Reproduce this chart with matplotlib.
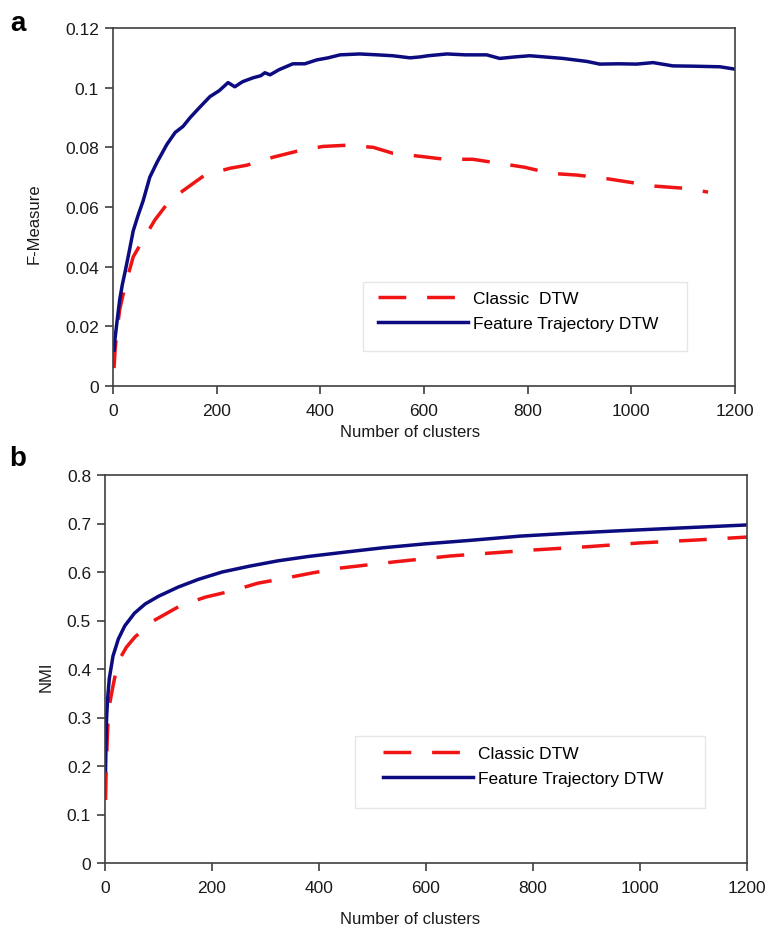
import matplotlib
matplotlib.use("Agg")
import matplotlib.pyplot as plt
from matplotlib.patches import Rectangle

plt.rcParams['font.family'] = ['Liberation Sans', 'DejaVu Sans']

# (a) F-measure vs number of clusters
fm_ft_x = [2, 4, 8, 13, 18, 23, 30, 39, 48, 58, 71, 85, 104, 120, 135, 149, 165, 187,
           205, 222, 235, 250, 270, 285, 293, 303, 320, 347, 370, 393, 415, 438, 476,
           510, 540, 573, 592, 608, 644, 680, 721, 746, 775, 804, 840, 868, 914, 939,
           975, 1010, 1042, 1080, 1120, 1171, 1200]
fm_ft_y = [0.012, 0.016, 0.022, 0.029, 0.034, 0.038, 0.044, 0.052, 0.057, 0.062, 0.070,
           0.075, 0.081, 0.085, 0.087, 0.090, 0.093, 0.097, 0.099, 0.1017, 0.1003, 0.102,
           0.1033, 0.104, 0.105, 0.1043, 0.106, 0.108, 0.108, 0.1093, 0.110, 0.111,
           0.1113, 0.111, 0.1107, 0.110, 0.1103, 0.1107, 0.1113, 0.111, 0.111, 0.1098,
           0.1103, 0.1107, 0.1102, 0.1098, 0.1088, 0.1079, 0.108, 0.1079, 0.1084,
           0.1073, 0.1072, 0.107, 0.1062]

fm_cl_x = [2, 4, 8, 13, 23, 39, 58, 81, 110, 145, 177, 226, 258, 309, 355, 405, 451,
           502, 540, 592, 640, 694, 743, 795, 843, 895, 945, 997, 1045, 1100, 1148]
fm_cl_y = [0.006, 0.012, 0.019, 0.0257, 0.0333, 0.0433, 0.049, 0.0557, 0.0623, 0.0667,
           0.0707, 0.073, 0.074, 0.0767, 0.0787, 0.0803, 0.0807, 0.080, 0.078, 0.077,
           0.076, 0.076, 0.0747, 0.0733, 0.0713, 0.0707, 0.0697, 0.0683, 0.067, 0.0663,
           0.065]

# (b) NMI vs number of clusters
nmi_ft_x = [1, 2, 3, 5, 8, 15, 25, 37, 55, 75, 100, 137, 175, 219, 270, 323, 380, 449,
            520, 598, 680, 776, 870, 962, 1080, 1200]
nmi_ft_y = [0.19, 0.25, 0.30, 0.34, 0.38, 0.427, 0.462, 0.489, 0.515, 0.534, 0.550,
            0.569, 0.585, 0.600, 0.612, 0.623, 0.632, 0.641, 0.650, 0.658, 0.665, 0.674,
            0.680, 0.685, 0.691, 0.697]

nmi_cl_x = [1, 2, 4, 6, 9, 15, 24, 40, 56, 90, 140, 187, 237, 286, 336, 387, 439, 486,
            542, 594, 645, 720, 794, 900, 1000, 1106, 1200]
nmi_cl_y = [0.13, 0.18, 0.25, 0.30, 0.33, 0.365, 0.414, 0.445, 0.466, 0.499, 0.53,
            0.548, 0.561, 0.577, 0.587, 0.598, 0.608, 0.614, 0.621, 0.627, 0.633, 0.639,
            0.645, 0.652, 0.660, 0.666, 0.672]

x_ticks = [0, 200, 400, 600, 800, 1000, 1200]
fm_ticks = [0, 0.02, 0.04, 0.06, 0.08, 0.1, 0.12]
fm_tick_labels = ['0', '0.02', '0.04', '0.06', '0.08', '0.1', '0.12']
nmi_ticks = [0, 0.1, 0.2, 0.3, 0.4, 0.5, 0.6, 0.7, 0.8]
nmi_tick_labels = ['0', '0.1', '0.2', '0.3', '0.4', '0.5', '0.6', '0.7', '0.8']

RED = '#f01414'
NAVY = '#0c0c80'
SPINE = '#404040'
TEXT = '#1a1a1a'

fig = plt.figure(figsize=(7.68, 9.28), dpi=100, facecolor='white')
ax_a = fig.add_axes([113 / 768, 1 - 387 / 928, 622 / 768, 358 / 928])
ax_b = fig.add_axes([105 / 768, 1 - 864 / 928, 642 / 768, 388 / 928])


def style_axes(ax, yticks, ylabels, ymax):
    ax.set_xlim(0, 1200)
    ax.set_ylim(0, ymax)
    ax.set_xticks(x_ticks)
    ax.set_xticklabels([str(t) for t in x_ticks])
    ax.set_yticks(yticks)
    ax.set_yticklabels(ylabels)
    for s in ax.spines.values():
        s.set_color(SPINE)
        s.set_linewidth(1.2)
    ax.tick_params(direction='out', length=6, width=1.2, color=SPINE,
                   labelsize=12.5, labelcolor=TEXT)
    ax.tick_params(axis='x', pad=6.5)
    ax.tick_params(axis='y', pad=4)


def add_legend(ax, anchor, box):
    # light grey box drawn separately so the handles keep their own inset
    ax.add_patch(Rectangle(box[:2], box[2], box[3], transform=ax.transAxes,
                           facecolor='white', edgecolor='#e6e6e6', lw=1.0, zorder=4))
    leg = ax.legend(loc='upper left', bbox_to_anchor=anchor, frameon=False,
                    fontsize=12.5, handlelength=5.2, borderpad=0, borderaxespad=0,
                    labelspacing=0.55, handletextpad=0.3)
    leg.set_zorder(5)


ax_a.plot(fm_cl_x, fm_cl_y, color=RED, lw=2.5, linestyle=(0, (8, 6)),
          label='Classic  DTW')
ax_a.plot(fm_ft_x, fm_ft_y, color=NAVY, lw=2.5, label='Feature Trajectory DTW')
style_axes(ax_a, fm_ticks, fm_tick_labels, 0.12)
add_legend(ax_a, (0.426, 0.266), (0.402, 0.098, 0.521, 0.192))

ax_b.plot(nmi_cl_x, nmi_cl_y, color=RED, lw=2.5, linestyle=(0, (8, 6)),
          label='Classic DTW')
ax_b.plot(nmi_ft_x, nmi_ft_y, color=NAVY, lw=2.5, label='Feature Trajectory DTW')
style_axes(ax_b, nmi_ticks, nmi_tick_labels, 0.8)
add_legend(ax_b, (0.433, 0.302), (0.389, 0.142, 0.546, 0.185))

# axis titles and panel letters
fig.text(410 / 768, 1 - 433 / 928, 'Number of clusters', ha='center', va='center',
         fontsize=12, color=TEXT)
fig.text(410 / 768, 1 - 920 / 928, 'Number of clusters', ha='center', va='center',
         fontsize=12, color=TEXT)
fig.text(34 / 768, 1 - 224 / 928, 'F-Measure', ha='center', va='center',
         rotation=90, fontsize=12, color=TEXT)
fig.text(46 / 768, 1 - 677 / 928, 'NMI', ha='center', va='center',
         rotation=90, fontsize=12, color=TEXT)
fig.text(18 / 768, 1 - 24 / 928, 'a', ha='center', va='center',
         fontsize=20, fontweight='bold')
fig.text(18 / 768, 1 - 459 / 928, 'b', ha='center', va='center',
         fontsize=20, fontweight='bold')

fig.savefig('out.png', dpi=100, facecolor='white')
